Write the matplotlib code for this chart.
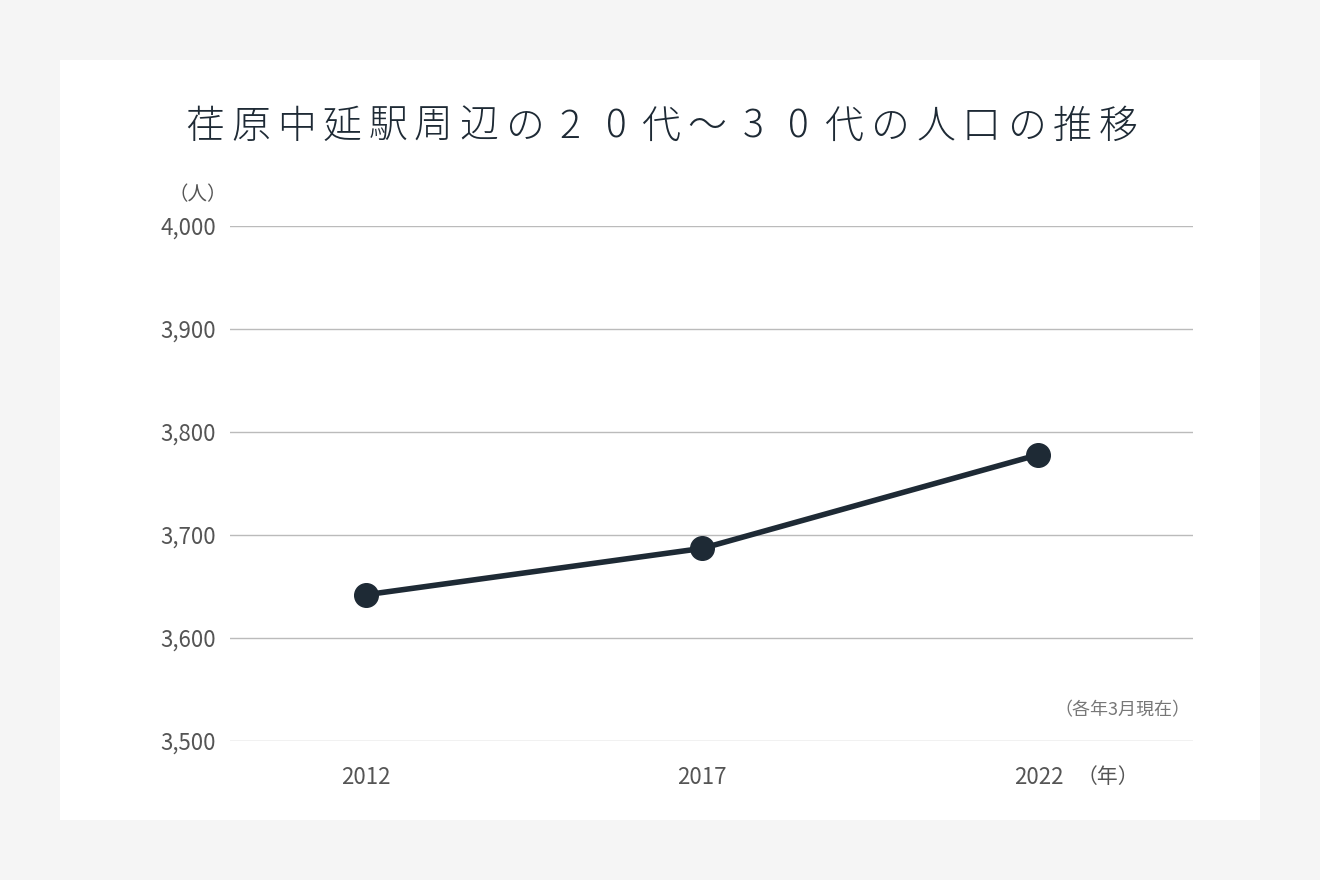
import matplotlib
matplotlib.use("Agg")
import matplotlib.pyplot as plt
from matplotlib.patches import Rectangle

plt.rcParams['font.family'] = ['Noto Sans CJK JP', 'DejaVu Sans']

years = ["2012", "2017", "2022"]
population = [3642, 3687, 3778]
yticks = [3500, 3600, 3700, 3800, 3900, 4000]
title = "荏原中延駅周辺の20代～30代の人口の推移"

fig = plt.figure(figsize=(13.2, 8.8), dpi=100)
fig.patch.set_facecolor("#f5f5f5")
fig.patches.append(Rectangle((60/1320, 60/880), 1200/1320, 760/880,
                             transform=fig.transFigure, facecolor="white",
                             edgecolor="none", zorder=-5))

ax = fig.add_axes([230/1320, 139/880, 963/1320, 515/880])
ax.set_zorder(2)
ax.set_facecolor("none")
x = list(range(len(years)))
ax.plot(x, population, color="#1e2a35", lw=4, marker="o", markersize=17,
        zorder=3, clip_on=False)
ax.set_xlim(-0.405, 2.46)
ax.set_ylim(3500, 4000)
ax.set_yticks(yticks)
ax.set_yticklabels([f"{v:,}" for v in yticks])
ax.set_xticks(x)
ax.set_xticklabels(years)
ax.grid(axis="y", color="#bbbbbb", lw=1)
ax.set_axisbelow(True)
for s in ax.spines.values():
    s.set_visible(False)
ax.tick_params(length=0, labelsize=16, labelcolor="#555555")
ax.tick_params(axis="y", pad=10)
ax.tick_params(axis="x", pad=18)

# title drawn character by character to mimic the wide letter spacing
x0, x1 = 205, 1118
n = len(title)
for i, ch in enumerate(title):
    fig.text((x0 + (x1 - x0) * i / (n - 1)) / 1320, 1 - 127 / 880, ch,
             ha="center", va="center", fontsize=28, fontweight="light",
             color="#1e2a35")
fig.text(198/1320, 1-195/880, "（人）", ha="center", va="center",
         fontsize=14, color="#555555")
fig.text(1190/1320, 1-710/880, "（各年3月現在）", ha="right", va="center",
         fontsize=13, color="#777777")
fig.text(1108/1320, 1-777/880, "（年）", ha="center", va="center",
         fontsize=15, color="#555555")

fig.savefig("out.png", dpi=100, facecolor=fig.get_facecolor())
